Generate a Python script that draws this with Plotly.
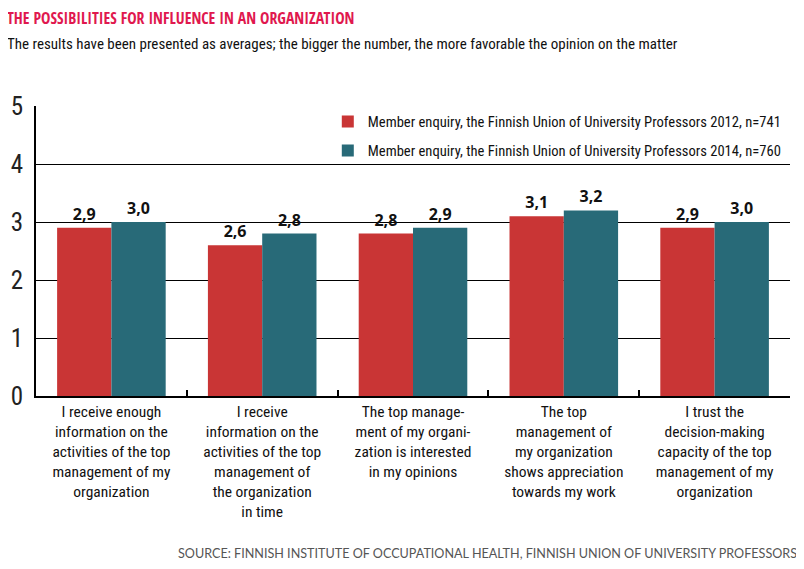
import plotly.graph_objects as go

categories = [
    "I receive enough<br>information on the<br>activities of the top<br>management of my<br>organization",
    "I receive<br>information on the<br>activities of the top<br>management of<br>the organization<br>in time",
    "The top manage-<br>ment of my organi-<br>zation is interested<br>in my opinions",
    "The top<br>management of<br>my organization<br>shows appreciation<br>towards my work",
    "I trust the<br>decision-making<br>capacity of the top<br>management of my<br>organization",
]
series_names = [
    "Member enquiry, the Finnish Union of University Professors 2012, n=741",
    "Member enquiry, the Finnish Union of University Professors 2014, n=760",
]
values_2012 = [2.9, 2.6, 2.8, 3.1, 2.9]
values_2014 = [3.0, 2.8, 2.9, 3.2, 3.0]
y_ticks = [0, 1, 2, 3, 4, 5]

colors = ["#C93535", "#286A78"]
narrow = "Roboto Condensed"

def fmt(v):
    return f"{v:.1f}".replace(".", ",")

fig = go.Figure()
for i, (name, vals) in enumerate(zip(series_names, [values_2012, values_2014])):
    fig.add_trace(go.Bar(
        x=categories, y=vals, name=name,
        marker=dict(color=colors[i], line=dict(width=0)),
        text=[fmt(v) for v in vals], textposition="outside",
        textfont=dict(family="Open Sans", size=16, color="#111111", weight="bold"),
        cliponaxis=False, legendgroup=f"g{i}",
    ))

# page body adds an 8px margin, so the figure is 8px smaller and shifted
fig.update_layout(
    width=796, height=561,
    margin=dict(l=28, r=14, t=98, b=173, autoexpand=False),
    paper_bgcolor="white", plot_bgcolor="white",
    barmode="group", bargap=0.28, bargroupgap=0,
    showlegend=True,
    legend=dict(
        x=0.387, y=1.002, xanchor="left", yanchor="top",
        font=dict(family=narrow, size=14.6, color="#111111"),
        bgcolor="rgba(255,255,255,0)", traceorder="grouped", tracegroupgap=7,
    ),
)
fig.update_xaxes(
    type="category", tickson="boundaries", ticks="inside", ticklen=6, tickwidth=1.5, tickcolor="black",
    showline=True, linecolor="black", linewidth=2, showgrid=False, tickangle=0,
    tickfont=dict(family=narrow, size=15.5, color="#111111"),
)
fig.update_yaxes(
    range=[0, 5], tickvals=y_ticks, showgrid=True, gridcolor="black", gridwidth=1.2,
    showline=True, linecolor="black", linewidth=2, zeroline=False,
    tickfont=dict(family=narrow, size=25, color="#222222"), ticks="", ticklabelstandoff=6,
)
fig.add_annotation(
    text="THE POSSIBILITIES FOR INFLUENCE IN AN ORGANIZATION", xref="paper", yref="paper",
    x=-0.041, y=1.0, xanchor="left", yanchor="middle", yshift=88, showarrow=False,
    font=dict(family="Open Sans Condensed", size=15.8, color="#E0184E", weight="bold"),
)
fig.add_annotation(
    text="The results have been presented as averages; the bigger the number, the more favorable the opinion on the matter",
    xref="paper", yref="paper", x=-0.041, y=1.0, xanchor="left", yanchor="middle", yshift=62, showarrow=False,
    font=dict(family=narrow, size=15, color="#111111"),
)
fig.add_annotation(
    text="SOURCE: FINNISH INSTITUTE OF OCCUPATIONAL HEALTH, FINNISH UNION OF UNIVERSITY PROFESSORS",
    xref="paper", yref="paper", x=1.012, y=0, xanchor="right", yanchor="middle", yshift=-157, showarrow=False,
    font=dict(family="Lato", size=12.6, color="#555555"),
)
fig.write_html("out.html")
